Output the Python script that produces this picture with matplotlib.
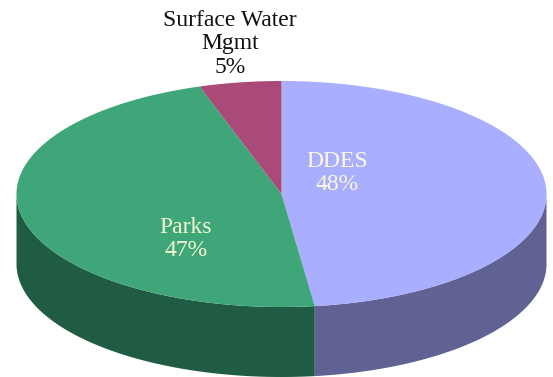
import numpy as np
import matplotlib
matplotlib.use('Agg')
import matplotlib.pyplot as plt
from matplotlib.patches import Polygon

# Budget share by department
labels = ['DDES', 'Parks', 'Surface Water\nMgmt']
shares = [48, 47, 5]
top_colors = ['#a9aeff', '#3fa679', '#aa4a78']
side_colors = ['#5f6293', '#205c44', '#6b2f4c']
label_colors = ['#fbf8dc', '#f6f8d4', '#111111']
label_pos = [(337, 173), (186, 239), (230, 44)]

W, H = 553, 377
cx, cy = 281.5, 194
rx, ry = 265, 113
depth = 70

plt.rcParams['font.family'] = ['Liberation Serif', 'DejaVu Serif']

fig = plt.figure(figsize=(W / 100, H / 100), dpi=100)
ax = fig.add_axes([0, 0, 1, 1])
ax.set_xlim(0, W)
ax.set_ylim(H, 0)
ax.axis('off')

def rim(a0, a1, n=200):
    # points on the ellipse, angles clockwise from twelve o'clock
    t = np.radians(np.linspace(a0, a1, n))
    return np.column_stack([cx + rx * np.sin(t), cy - ry * np.cos(t)])

angles = np.concatenate([[0], np.cumsum(shares) * 3.6])

# Side walls first, only the front half of the rim is visible
for i in range(len(shares)):
    a0, a1 = max(angles[i], 90), min(angles[i + 1], 270)
    if a1 <= a0:
        continue
    edge = rim(a0, a1)
    wall = np.vstack([edge, edge[::-1] + [0, depth]])
    ax.add_patch(Polygon(wall, closed=True, fc=side_colors[i], ec='none'))

# Top face
for i in range(len(shares)):
    edge = rim(angles[i], angles[i + 1])
    ax.add_patch(Polygon(np.vstack([[cx, cy], edge]), closed=True, fc=top_colors[i], ec='none'))

for i in range(len(shares)):
    x, y = label_pos[i]
    ax.text(x, y, f'{labels[i]}\n{shares[i]}%', color=label_colors[i], ha='center',
            va='center', fontsize=17, linespacing=1.17)

fig.savefig('out.png', dpi=100, facecolor='white')
